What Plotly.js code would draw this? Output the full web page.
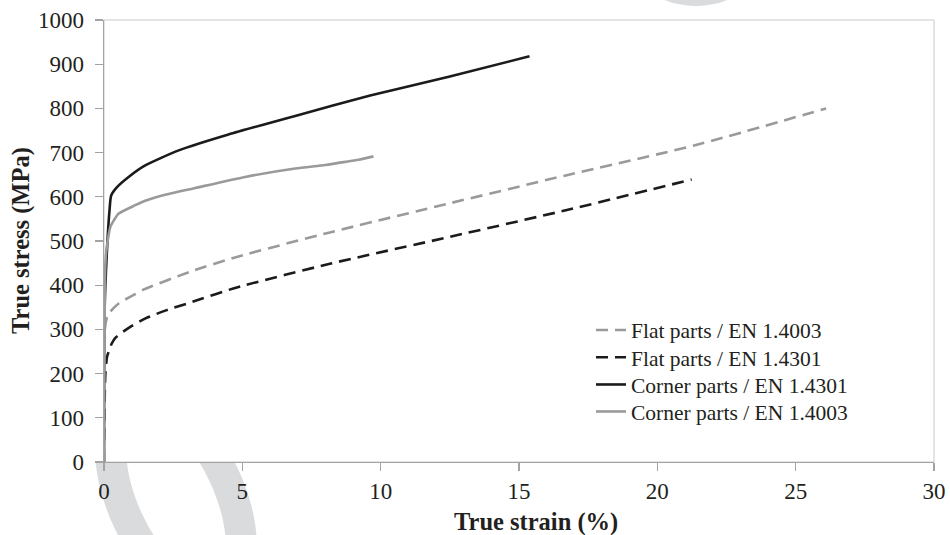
<!DOCTYPE html>
<html>
<head>
<meta charset="utf-8">
<script src="https://cdn.plot.ly/plotly-3.0.1.min.js"></script>
<style>html,body{margin:0;padding:0;background:#fff;}#chart{width:950px;height:535px;}</style>
</head>
<body>
<div id="chart"></div>
<script>
// ---- data ----
const seriesNames = ['Flat parts / EN 1.4003', 'Flat parts / EN 1.4301', 'Corner parts / EN 1.4301', 'Corner parts / EN 1.4003'];

const flat4003Strain = [0, 0.03, 0.11, 0.17, 0.54, 1.13, 1.39, 3.09, 4.8, 8.2, 12.47, 16.73, 21.33, 26.1];
const flat4003Stress = [0, 300, 328, 336, 359, 380, 389, 430, 464, 520, 585, 649, 716, 800];

const flat4301Strain = [0, 0.05, 0.11, 0.17, 0.28, 0.41, 0.88, 1.5, 2.24, 3.18, 4.8, 8.2, 12.47, 16.73, 21.24];
const flat4301Stress = [50, 200, 238, 250, 268, 281, 303, 325, 343, 362, 395, 449, 509, 570, 639];

const corner4301Strain = [0, 0.02, 0.1, 0.2, 0.26, 0.47, 0.89, 1.49, 2.7, 4.5, 6.91, 9.62, 12.5, 15.38];
const corner4301Stress = [0, 340, 470, 570, 603, 622, 645, 671, 705, 741, 783, 829, 872, 918];

const corner4003Strain = [0, 0.03, 0.06, 0.11, 0.23, 0.35, 0.53, 1.13, 1.49, 2.1, 3.3, 5.1, 6.91, 8.0, 8.72, 9.2, 9.74];
const corner4003Stress = [0, 400, 460, 490, 532, 546, 562, 581, 591, 603, 620, 645, 664, 672, 679, 684, 691.5];

const xTickVals = [0, 5, 10, 15, 20, 25, 30];
const yTickVals = [0, 100, 200, 300, 400, 500, 600, 700, 800, 900, 1000];

// ---- styling ----
const FONT = "'Liberation Serif', 'Times New Roman', serif";
const TXT = '#231f20';
const AX = '#a3a3a3';
const W = 950, H = 535;
const M = {l: 104, r: 16, t: 20, b: 73};
const PW = W - M.l - M.r, PH = H - M.t - M.b;
const toPX = px => (px - M.l) / PW;
const toPY = py => (H - M.b - py) / PH;

// decorative background ring (watermark) of the source picture
function ringPath(cx, cy, a, b, phiDeg) {
  const phi = phiDeg * Math.PI / 180;
  const pts = [];
  for (let i = 0; i <= 72; i++) {
    const t = 2 * Math.PI * i / 72;
    const px = cx + a * Math.cos(t) * Math.cos(phi) - b * Math.sin(t) * Math.sin(phi);
    const py = cy + a * Math.cos(t) * Math.sin(phi) + b * Math.sin(t) * Math.cos(phi);
    pts.push(toPX(px).toFixed(4) + ',' + toPY(py).toFixed(4));
  }
  return 'M' + pts.join('L') + 'Z';
}

const legendIds = ['legend', 'legend2', 'legend3', 'legend4'];
const legendTops = [309.5, 336.8, 364, 391];

const traces = [
  {x: flat4003Strain, y: flat4003Stress, name: seriesNames[0], mode: 'lines', legend: legendIds[0],
   line: {color: '#9a9a9a', width: 2.6, dash: '12px,7px', shape: 'spline', smoothing: 0.6}},
  {x: flat4301Strain, y: flat4301Stress, name: seriesNames[1], mode: 'lines', legend: legendIds[1],
   line: {color: '#1c1a1b', width: 2.6, dash: '12px,7px', shape: 'spline', smoothing: 0.6}},
  {x: corner4301Strain, y: corner4301Stress, name: seriesNames[2], mode: 'lines', legend: legendIds[2],
   line: {color: '#1c1a1b', width: 2.6, shape: 'spline', smoothing: 0.6}},
  {x: corner4003Strain, y: corner4003Stress, name: seriesNames[3], mode: 'lines', legend: legendIds[3],
   line: {color: '#9a9a9a', width: 2.6, shape: 'spline', smoothing: 0.6}}
];

const layout = {
  width: W, height: H,
  margin: M,
  paper_bgcolor: '#ffffff',
  plot_bgcolor: 'rgba(0,0,0,0)',
  showlegend: true,
  font: {family: FONT, color: TXT, size: 22},
  xaxis: {
    range: [0, 30], tickvals: xTickVals, ticktext: xTickVals.map(String),
    showgrid: false, zeroline: false, showline: true, linecolor: AX, linewidth: 1.3,
    ticks: 'outside', ticklen: 8, tickwidth: 1.3, tickcolor: AX,
    tickfont: {family: FONT, size: 23, color: TXT}, fixedrange: true
  },
  yaxis: {
    range: [0, 1000], tickvals: yTickVals, ticktext: yTickVals.map(String),
    showgrid: false, zeroline: false, showline: true, linecolor: AX, linewidth: 1.3,
    ticks: 'outside', ticklen: 8, tickwidth: 1.3, tickcolor: AX, ticklabelstandoff: 6,
    tickfont: {family: FONT, size: 23, color: TXT}, fixedrange: true
  },
  xaxis2: {
    overlaying: 'x', anchor: 'y', side: 'bottom', range: [0, 30], tickvals: xTickVals,
    showticklabels: false, showgrid: false, zeroline: false, showline: false,
    ticks: 'inside', ticklen: 7, tickwidth: 1.3, tickcolor: AX
  },
  yaxis2: {
    overlaying: 'y', anchor: 'x', side: 'left', range: [0, 1000], tickvals: yTickVals,
    showticklabels: false, showgrid: false, zeroline: false, showline: false,
    ticks: 'inside', ticklen: 7, tickwidth: 1.3, tickcolor: AX
  },
  shapes: [
    {type: 'path', xref: 'paper', yref: 'paper', layer: 'below',
     path: ringPath(176, 498, 53, 105, -25),
     line: {color: '#dadbdc', width: 31}, fillcolor: 'rgba(0,0,0,0)'},
    {type: 'circle', xref: 'paper', yref: 'paper', layer: 'below',
     x0: toPX(610), x1: toPX(782), y0: toPY(6), y1: toPY(-166),
     line: {width: 0}, fillcolor: '#dadbdc'},
    {type: 'rect', xref: 'paper', yref: 'paper', layer: 'below',
     x0: toPX(40), x1: 1, y0: 0, y1: 1,
     line: {width: 0}, fillcolor: '#ffffff'},
    {type: 'rect', xref: 'paper', yref: 'paper', layer: 'below',
     x0: 0, x1: 1, y0: 0, y1: 1,
     line: {color: '#c9c9c9', width: 1}, fillcolor: 'rgba(0,0,0,0)'}
  ],
  annotations: [
    {text: '<b>True strain (%)</b>', xref: 'paper', yref: 'paper',
     x: toPX(536), y: toPY(522), xanchor: 'center', yanchor: 'middle', showarrow: false,
     font: {family: FONT, size: 24.5, color: TXT}},
    {text: '<b>True stress (MPa)</b>', xref: 'paper', yref: 'paper', textangle: -90,
     x: toPX(21), y: toPY(241), xanchor: 'center', yanchor: 'middle', showarrow: false,
     font: {family: FONT, size: 24.5, color: TXT}}
  ]
};

legendIds.forEach((id, i) => {
  layout[id] = {
    x: toPX(591), xanchor: 'left', y: toPY(legendTops[i]), yanchor: 'top',
    bgcolor: 'rgba(0,0,0,0)', borderwidth: 0,
    font: {family: FONT, size: 21.5, color: TXT}
  };
});

Plotly.newPlot('chart', traces, layout, {displayModeBar: false, staticPlot: true});
</script>
</body>
</html>
